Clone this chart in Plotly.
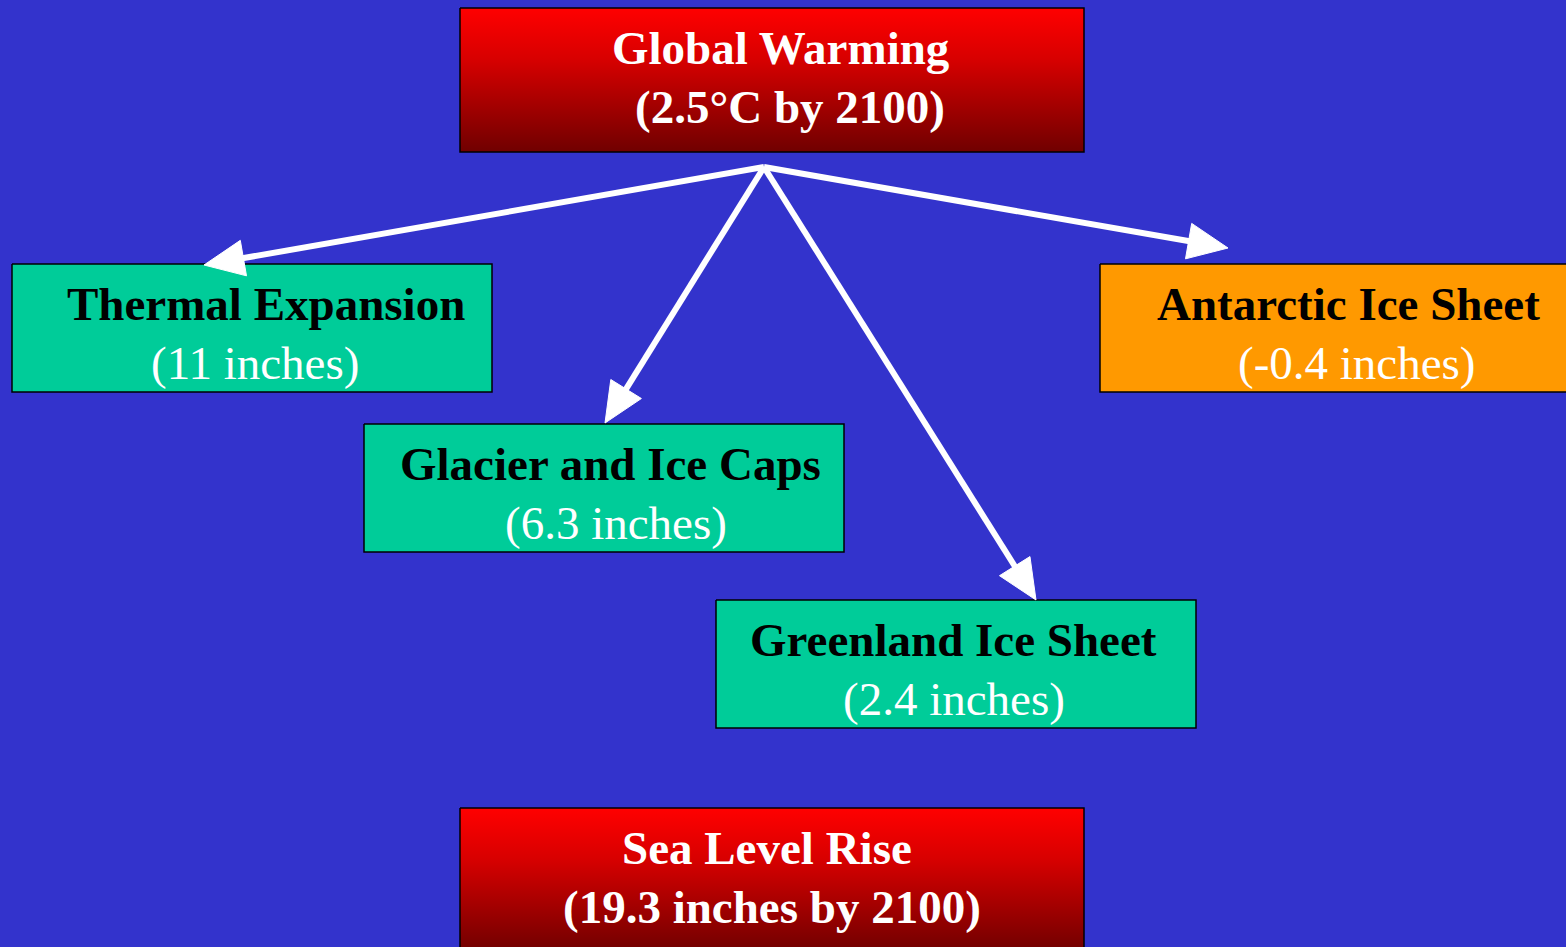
import numpy as np
import plotly.graph_objects as go

# ---- data -------------------------------------------------------------
warming_c = 2.5
target_year = 2100
contributors = ["Thermal Expansion", "Glacier and Ice Caps",
                "Greenland Ice Sheet", "Antarctic Ice Sheet"]
contribution_in = [11, 6.3, 2.4, -0.4]
total_rise_in = 19.3

# ---- layout (pixel coordinates, y grows downward) ---------------------
W, H = 1566, 947
BG = "#3333CC"
TEAL = "#00CC99"
ORANGE = "#FF9900"
FONT = "Liberation Serif, Times New Roman, serif"
FS = 47

# box rectangles: x0, y0, x1, y1
top_box = (460, 8, 1084, 152)
bottom_box = (460, 808, 1084, 952)
contrib_boxes = [(12, 264, 492, 392), (364, 424, 844, 552),
                 (716, 600, 1196, 728), (1100, 264, 1580, 392)]
contrib_fill = [TEAL, TEAL, TEAL, ORANGE]
# text line centres (title x, sub x) and (title y, sub y)
contrib_text_x = [(266, 255), (610, 616), (953, 954), (1348, 1357)]
contrib_text_y = [(304, 363), (464, 523), (640, 699), (304, 363)]
top_text = [(781, 48), (790, 107)]
bottom_text = [(767, 848), (772, 907)]

arrow_origin = (764, 167)
arrow_tips = [(204, 265), (605, 423), (1036, 600), (1228, 248)]
HEAD_LEN, HEAD_HALF = 40, 18

fig = go.Figure()


def rect_xy(b):
    x0, y0, x1, y1 = b
    return [x0, x1, x1, x0, x0], [y0, y0, y1, y1, y0]


# red gradient boxes
for b in (top_box, bottom_box):
    xs, ys = rect_xy(b)
    fig.add_trace(go.Scatter(
        x=xs, y=ys, mode="lines", fill="toself",
        line=dict(color="black", width=1.5),
        fillgradient=dict(type="vertical", start=b[1], stop=b[3],
                          colorscale=[[0, "#FF0000"], [0.35, "#D80000"],
                                      [1, "#700000"]]),
        hoverinfo="skip", showlegend=False))

# contribution boxes
for b, c in zip(contrib_boxes, contrib_fill):
    xs, ys = rect_xy(b)
    fig.add_trace(go.Scatter(
        x=xs, y=ys, mode="lines", fill="toself", fillcolor=c,
        line=dict(color="black", width=1.5),
        hoverinfo="skip", showlegend=False))

# arrows: shaft plus filled head
ox, oy = arrow_origin
for tx, ty in arrow_tips:
    d = np.array([tx - ox, ty - oy], dtype=float)
    u = d / np.linalg.norm(d)
    n = np.array([-u[1], u[0]])
    base = np.array([tx, ty]) - u * HEAD_LEN
    fig.add_trace(go.Scatter(
        x=[ox, base[0] + u[0] * 4], y=[oy, base[1] + u[1] * 4],
        mode="lines", line=dict(color="white", width=6),
        hoverinfo="skip", showlegend=False))
    p1 = base + n * HEAD_HALF
    p2 = base - n * HEAD_HALF
    fig.add_trace(go.Scatter(
        x=[tx, p1[0], p2[0], tx], y=[ty, p1[1], p2[1], ty],
        mode="lines", fill="toself", fillcolor="white",
        line=dict(color="white", width=1),
        hoverinfo="skip", showlegend=False))


def label(x, y, text, color, bold):
    fig.add_annotation(
        x=x, y=y, xref="x", yref="y", text=text, showarrow=False,
        xanchor="center", yanchor="middle",
        font=dict(family=FONT, size=FS, color=color,
                  weight="bold" if bold else "normal"))


label(*top_text[0], "Global Warming", "white", True)
label(*top_text[1], f"({warming_c}°C by {target_year})", "white", True)
label(*bottom_text[0], "Sea Level Rise", "white", True)
label(*bottom_text[1], f"({total_rise_in} inches by {target_year})", "white", True)

for name, val, (tx1, tx2), (ty1, ty2) in zip(contributors, contribution_in,
                                             contrib_text_x, contrib_text_y):
    label(tx1, ty1, name, "black", True)
    label(tx2, ty2, f"({val:g} inches)", "white", False)

fig.update_xaxes(range=[0, W], visible=False, fixedrange=True)
fig.update_yaxes(range=[H, 0], visible=False, fixedrange=True)
fig.update_layout(
    width=W, height=H, margin=dict(l=0, r=0, t=0, b=0),
    paper_bgcolor=BG, plot_bgcolor=BG, showlegend=False)

fig.write_html("out.html", config={"displayModeBar": False})
